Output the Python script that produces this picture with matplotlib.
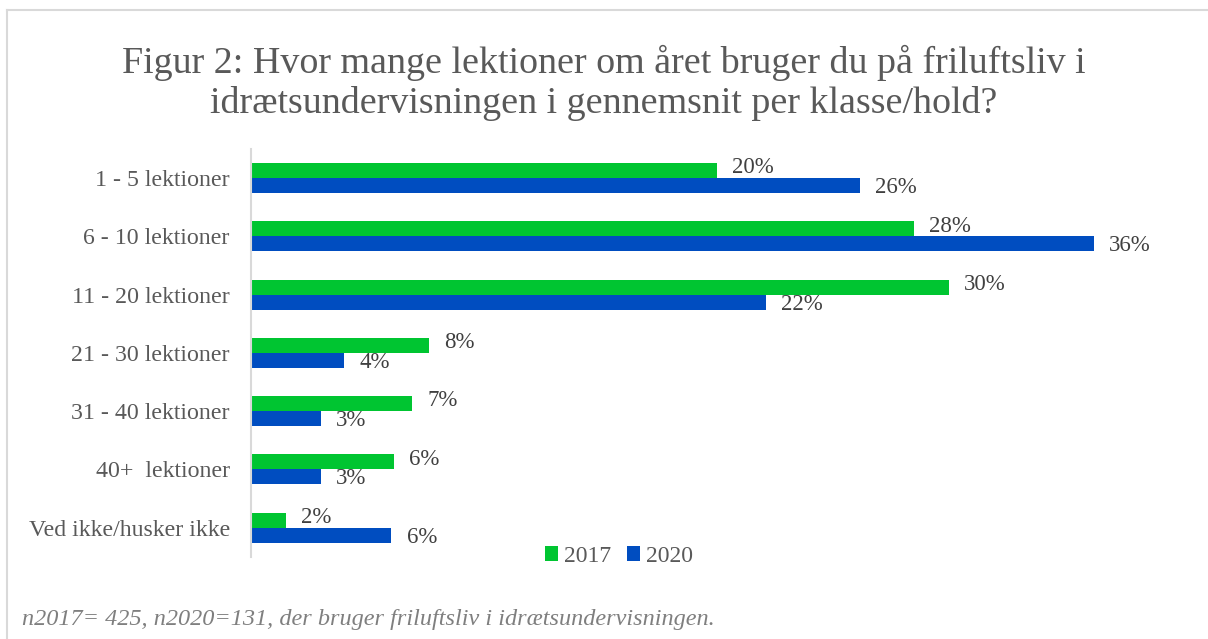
import matplotlib
matplotlib.use("Agg")
import matplotlib.pyplot as plt
from matplotlib.lines import Line2D
from matplotlib.patches import Patch
import numpy as np

plt.rcParams['font.family'] = ['Liberation Serif', 'DejaVu Serif']

categories = ["1 - 5 lektioner", "6 - 10 lektioner", "11 - 20 lektioner",
              "21 - 30 lektioner", "31 - 40 lektioner", "40+  lektioner",
              "Ved ikke/husker ikke"]
values_2017 = [19.9, 28.3, 29.8, 7.6, 6.9, 6.1, 1.5]
values_2020 = [26.0, 36.0, 22.0, 4.0, 3.0, 3.0, 6.0]
series_names = ["2017", "2020"]
title_text = ("Figur 2: Hvor mange lektioner om året bruger du på friluftsliv i\n"
              "idrætsundervisningen i gennemsnit per klasse/hold?")
footnote = "n2017= 425, n2020=131, der bruger friluftsliv i idrætsundervisningen."

GREEN = "#00C531"
BLUE = "#004DC0"
TXT = "#595959"
LBL = "#404040"

W, H = 1208, 639
fig = plt.figure(figsize=(W / 100, H / 100), dpi=100)

ax = fig.add_axes([250.7 / W, 1 - 556.7 / H, 937 / W, (556.7 - 149) / H])
y = np.arange(len(categories))
h = 0.257
b1 = ax.barh(y - h / 2, values_2017, height=h, color=GREEN, label=series_names[0])
b2 = ax.barh(y + h / 2, values_2020, height=h, color=BLUE, label=series_names[1])

ax.set_xlim(0, 40)
ax.set_ylim(len(categories) - 0.5, -0.5)
ax.set_yticks(y)
ax.set_yticklabels(categories, fontsize=17.2, color=TXT)
ax.tick_params(axis='y', length=0, pad=15)
ax.set_xticks([])
for s in ["top", "right", "bottom"]:
    ax.spines[s].set_visible(False)
ax.spines["left"].set_color("#D9D9D9")
ax.spines["left"].set_linewidth(1.5)

for bars, vals, dy in ((b1, values_2017, 2.0), (b2, values_2020, -1.5)):
    for rect, v in zip(bars, vals):
        ax.annotate(f"{round(v):d}%",
                    xy=(rect.get_width(), rect.get_y() + rect.get_height() / 2),
                    xytext=(11.0, dy), textcoords="offset points",
                    ha="left", va="center", fontsize=16.5, color=LBL)

fig.text(0.5, 1 - 83 / H, title_text, ha="center", va="center",
         fontsize=27.4, color=TXT, linespacing=1.17)

handles = [Patch(facecolor=GREEN), Patch(facecolor=BLUE)]
fig.legend(handles, series_names, loc="center",
           bbox_to_anchor=(619 / W, 1 - 556 / H), ncol=2, frameon=False,
           fontsize=17, labelcolor=TXT, handlelength=0.55, handleheight=0.6,
           handletextpad=0.25, columnspacing=0.7, borderpad=0, borderaxespad=0)

fig.text(22 / W, 1 - 620 / H, footnote, ha="left", va="center",
         fontsize=17.5, style="italic", color="#7F7F7F")

fig.add_artist(Line2D([7 / W, 1], [1 - 10 / H, 1 - 10 / H], transform=fig.transFigure,
                      color="#D9D9D9", linewidth=1.5))
fig.add_artist(Line2D([7 / W, 7 / W], [1 - 10 / H, 0], transform=fig.transFigure,
                      color="#D9D9D9", linewidth=1.5))

fig.savefig("out.png", dpi=100, facecolor="white")
